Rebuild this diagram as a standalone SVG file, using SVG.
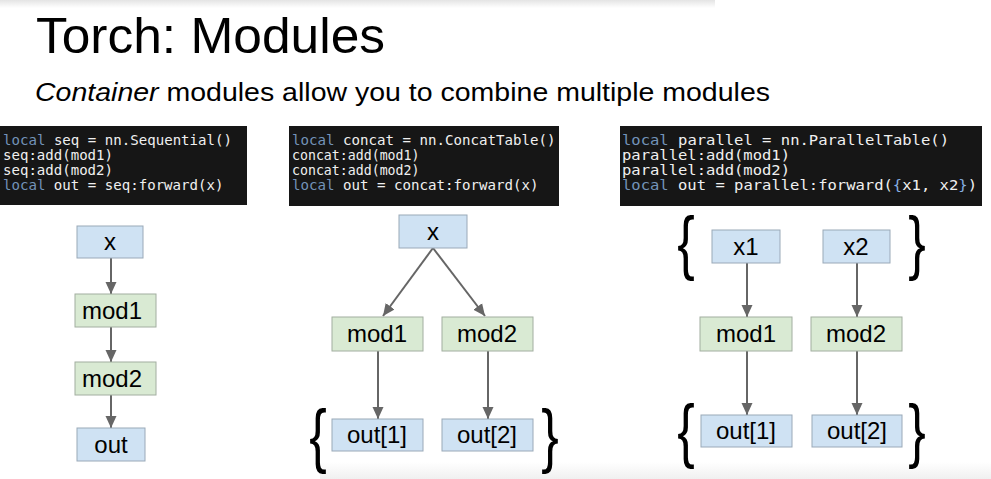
<svg xmlns="http://www.w3.org/2000/svg" width="991" height="479" viewBox="0 0 991 479">
<defs>
<style>
.title{font-family:"Liberation Sans",Arial,sans-serif;fill:#000}
.code{font-family:"DejaVu Sans Mono",monospace;font-size:13.5px;fill:#f0f0f0}
.kw{fill:#7393b9}
.br{fill:#86aee0}
.cbg{fill:#161616}
.blue{fill:#cfe2f3;stroke:#9aa9b8;stroke-width:1}
.green{fill:#d9ead3;stroke:#a2aea0;stroke-width:1}
.lbl{font-family:"Liberation Sans",Arial,sans-serif;font-size:24px;fill:#000;text-anchor:middle}
.brace{font-family:"Liberation Sans",Arial,sans-serif;font-size:70px;fill:#000;text-anchor:middle}
.edge{stroke:#666;stroke-width:2;fill:none;marker-end:url(#ah)}
</style>
<marker id="ah" markerUnits="userSpaceOnUse" markerWidth="13" markerHeight="13" viewBox="0 0 13 13" refX="12" refY="6.5" orient="auto">
<path d="M0,1 L12,6.5 L0,12 Z" fill="#666"/>
</marker>
<linearGradient id="topsh" x1="0" y1="0" x2="0" y2="1">
<stop offset="0" stop-color="#e4e4e4"/>
<stop offset="1" stop-color="#ffffff"/>
</linearGradient>
<linearGradient id="botsh" x1="0" y1="0" x2="0" y2="1">
<stop offset="0" stop-color="#ffffff"/>
<stop offset="1" stop-color="#f0f0f0"/>
</linearGradient>
</defs>
<rect width="991" height="479" fill="#fff"/>
<rect x="0" y="0" width="715" height="8" fill="url(#topsh)"/>
<rect x="320" y="462" width="671" height="17" fill="url(#botsh)"/>

<g id="heading">
<text class="title" x="36" y="53" font-size="50" textLength="349" lengthAdjust="spacingAndGlyphs">Torch: Modules</text>
<text class="title" x="35" y="101" font-size="26.5" textLength="735" lengthAdjust="spacingAndGlyphs"><tspan font-style="italic">Container</tspan> modules allow you to combine multiple modules</text>
</g>

<g id="code1">
<rect class="cbg" x="0" y="126" width="247" height="79"/>
<text class="code" x="3" y="144.5" textLength="229" lengthAdjust="spacingAndGlyphs"><tspan class="kw">local</tspan> seq = nn.Sequential()</text>
<text class="code" x="3" y="159.5" textLength="110" lengthAdjust="spacingAndGlyphs">seq:add(mod1)</text>
<text class="code" x="3" y="174.5" textLength="110" lengthAdjust="spacingAndGlyphs">seq:add(mod2)</text>
<text class="code" x="3" y="189.5" textLength="220.5" lengthAdjust="spacingAndGlyphs"><tspan class="kw">local</tspan> out = seq:forward(x)</text>
</g>

<g id="code2">
<rect class="cbg" x="289" y="126" width="270" height="80"/>
<text class="code" x="292" y="144.5" textLength="263.5" lengthAdjust="spacingAndGlyphs"><tspan class="kw">local</tspan> concat = nn.ConcatTable()</text>
<text class="code" x="292" y="159.5" textLength="127.5" lengthAdjust="spacingAndGlyphs">concat:add(mod1)</text>
<text class="code" x="292" y="174.5" textLength="127.5" lengthAdjust="spacingAndGlyphs">concat:add(mod2)</text>
<text class="code" x="292" y="189.5" textLength="246.5" lengthAdjust="spacingAndGlyphs"><tspan class="kw">local</tspan> out = concat:forward(x)</text>
</g>

<g id="code3">
<rect class="cbg" x="620" y="126" width="362" height="80"/>
<text class="code" x="622" y="144.5" textLength="327" lengthAdjust="spacingAndGlyphs"><tspan class="kw">local</tspan> parallel = nn.ParallelTable()</text>
<text class="code" x="622" y="159.5" textLength="168" lengthAdjust="spacingAndGlyphs">parallel:add(mod1)</text>
<text class="code" x="622" y="174.5" textLength="168" lengthAdjust="spacingAndGlyphs">parallel:add(mod2)</text>
<text class="code" x="622" y="189.5" textLength="355" lengthAdjust="spacingAndGlyphs"><tspan class="kw">local</tspan> out = parallel:forward(<tspan class="br">{</tspan>x1, x2<tspan class="br">}</tspan>)</text>
</g>

<g id="connectors">
<line class="edge" x1="111" y1="258" x2="111" y2="294"/>
<line class="edge" x1="111" y1="327" x2="111" y2="362"/>
<line class="edge" x1="111" y1="395" x2="111" y2="428"/>
<line class="edge" x1="433" y1="248" x2="383" y2="316"/>
<line class="edge" x1="433" y1="248" x2="485" y2="316"/>
<line class="edge" x1="378" y1="351" x2="378" y2="419"/>
<line class="edge" x1="488" y1="351" x2="488" y2="419"/>
<line class="edge" x1="747" y1="263" x2="747" y2="317"/>
<line class="edge" x1="857" y1="263" x2="857" y2="317"/>
<line class="edge" x1="747" y1="351" x2="747" y2="415"/>
<line class="edge" x1="857" y1="351" x2="857" y2="415"/>
</g>

<g id="seq-x"><rect class="blue" x="77" y="226" width="66" height="32"/><text class="lbl" x="110" y="250">x</text></g>
<g id="seq-mod1"><rect class="green" x="75" y="294" width="81" height="33"/><text class="lbl" x="112" y="319">mod1</text></g>
<g id="seq-mod2"><rect class="green" x="75" y="362" width="81" height="33"/><text class="lbl" x="112" y="387">mod2</text></g>
<g id="seq-out"><rect class="blue" x="77" y="428" width="68" height="33"/><text class="lbl" x="111" y="453">out</text></g>

<g id="cat-x"><rect class="blue" x="399" y="215" width="68" height="33"/><text class="lbl" x="433" y="240">x</text></g>
<g id="cat-mod1"><rect class="green" x="332" y="317" width="91" height="34"/><text class="lbl" x="377" y="342">mod1</text></g>
<g id="cat-mod2"><rect class="green" x="442" y="317" width="91" height="34"/><text class="lbl" x="487" y="342">mod2</text></g>
<g id="cat-out1"><rect class="blue" x="332" y="419" width="91" height="32"/><text class="lbl" x="377" y="443">out[1]</text></g>
<g id="cat-out2"><rect class="blue" x="442" y="419" width="91" height="32"/><text class="lbl" x="487" y="443">out[2]</text></g>
<g id="cat-braces"><text class="brace" transform="translate(318,459) scale(0.75,1)">{</text><text class="brace" transform="translate(550,459) scale(0.75,1)">}</text></g>

<g id="par-x1"><rect class="blue" x="712" y="230" width="68" height="33"/><text class="lbl" x="746" y="255">x1</text></g>
<g id="par-x2"><rect class="blue" x="823" y="230" width="67" height="33"/><text class="lbl" x="856" y="255">x2</text></g>
<g id="par-mod1"><rect class="green" x="700" y="317" width="92" height="34"/><text class="lbl" x="746" y="342">mod1</text></g>
<g id="par-mod2"><rect class="green" x="811" y="317" width="91" height="34"/><text class="lbl" x="856" y="342">mod2</text></g>
<g id="par-out1"><rect class="blue" x="701" y="415" width="91" height="32"/><text class="lbl" x="746" y="439">out[1]</text></g>
<g id="par-out2"><rect class="blue" x="812" y="415" width="90" height="32"/><text class="lbl" x="857" y="439">out[2]</text></g>
<g id="par-braces"><text class="brace" transform="translate(686,266) scale(0.75,1)">{</text><text class="brace" transform="translate(917,266) scale(0.75,1)">}</text><text class="brace" transform="translate(686,454) scale(0.75,1)">{</text><text class="brace" transform="translate(917,454) scale(0.75,1)">}</text></g>
</svg>
